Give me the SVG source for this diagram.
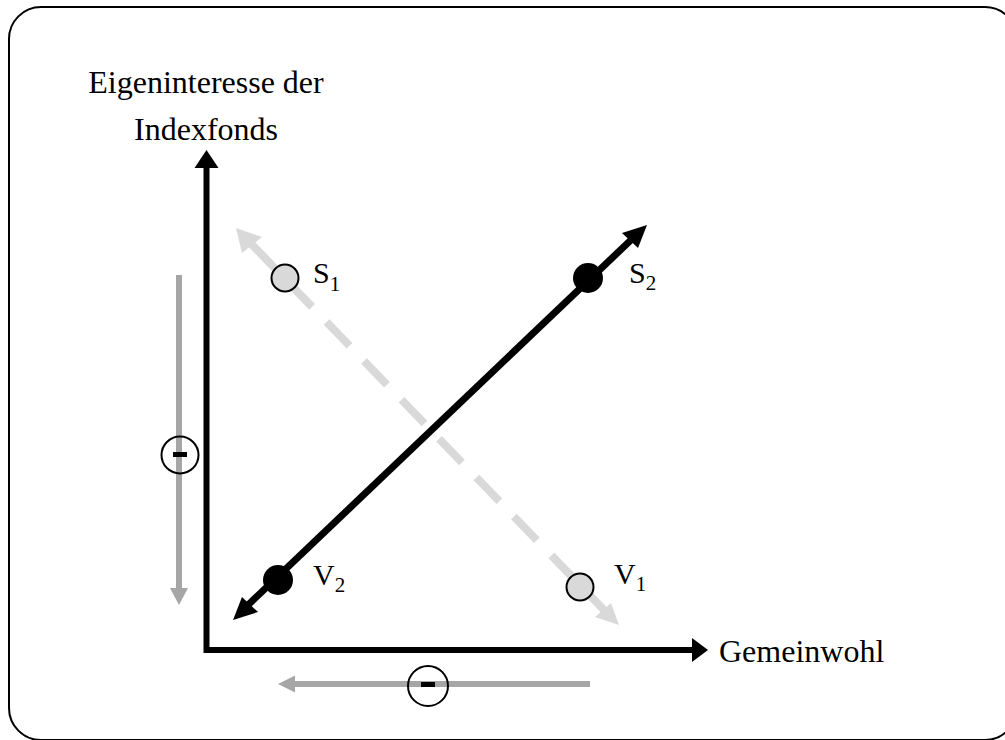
<svg xmlns="http://www.w3.org/2000/svg" width="1005" height="740" viewBox="0 0 1005 740">
<defs>
<style>
.lbl{font-family:"Liberation Serif","Times New Roman",serif;font-size:30px;fill:#000}
.sub{font-size:21px}
.title{font-family:"Liberation Serif","Times New Roman",serif;font-size:32px;fill:#000}
.axis{stroke:#000;stroke-width:6;fill:none}
.gray{stroke:#a6a6a6;stroke-width:6;fill:none}
.minus{fill:none;stroke:#000;stroke-width:2}
</style>
</defs>
<rect x="9" y="7" width="1008" height="733" rx="32" ry="32" fill="#fff" stroke="#000" stroke-width="2"/>

<g id="title">
<text class="title" x="206" y="93" text-anchor="middle">Eigeninteresse der</text>
<text class="title" x="206" y="140" text-anchor="middle">Indexfonds</text>
</g>

<g id="connectors">
<!-- axes -->
<polyline class="axis" points="206.5,167 206.5,650 693,650" stroke-linejoin="miter"/>
<polygon points="206.5,150 194.5,168 218.5,168" fill="#000"/>
<polygon points="708,650 692,638 692,662" fill="#000"/>

<!-- gray trend arrows -->
<line class="gray" x1="179" y1="275" x2="179" y2="589"/>
<polygon points="179,605 170,588 188,588" fill="#a6a6a6"/>
<line class="gray" x1="590" y1="684" x2="294" y2="684"/>
<polygon points="278,684 295,675.5 295,692.5" fill="#a6a6a6"/>

<!-- dashed light gray diagonal -->
<line x1="251" y1="243.5" x2="604" y2="610" stroke="#d9d9d9" stroke-width="8" stroke-dasharray="33 21" stroke-dashoffset="-1"/>
<polygon points="236,228 242,253 262,237" fill="#d9d9d9"/>
<polygon points="619,625 595,617 611,603" fill="#d9d9d9"/>

<!-- black diagonal -->
<line x1="248" y1="605" x2="632" y2="239" stroke="#000" stroke-width="7"/>
<polygon points="233,620 242,597 258,612" fill="#000"/>
<polygon points="647,225 622,233 638,248" fill="#000"/>
</g>

<g id="minus-v">
<circle class="minus" cx="180" cy="455" r="18.5"/>
<rect x="173" y="452" width="14" height="5" fill="#000"/>
</g>
<g id="minus-h">
<circle class="minus" cx="428" cy="686" r="20"/>
<rect x="421" y="682" width="14" height="5" fill="#000"/>
</g>

<g id="S1">
<circle cx="285" cy="278" r="13.5" fill="#d9d9d9" stroke="#000" stroke-width="2"/>
<text class="lbl" x="313" y="283">S<tspan class="sub" dy="8">1</tspan></text>
</g>
<g id="V1">
<circle cx="580" cy="587" r="13.5" fill="#d9d9d9" stroke="#000" stroke-width="2"/>
<text class="lbl" x="614" y="584">V<tspan class="sub" dy="7">1</tspan></text>
</g>
<g id="S2">
<circle cx="588" cy="278" r="15" fill="#000"/>
<text class="lbl" x="629" y="283">S<tspan class="sub" dy="7">2</tspan></text>
</g>
<g id="V2">
<circle cx="278" cy="580" r="15" fill="#000"/>
<text class="lbl" x="313" y="585">V<tspan class="sub" dy="7">2</tspan></text>
</g>

<g id="xlabel">
<text class="title" x="719" y="662">Gemeinwohl</text>
</g>
</svg>
